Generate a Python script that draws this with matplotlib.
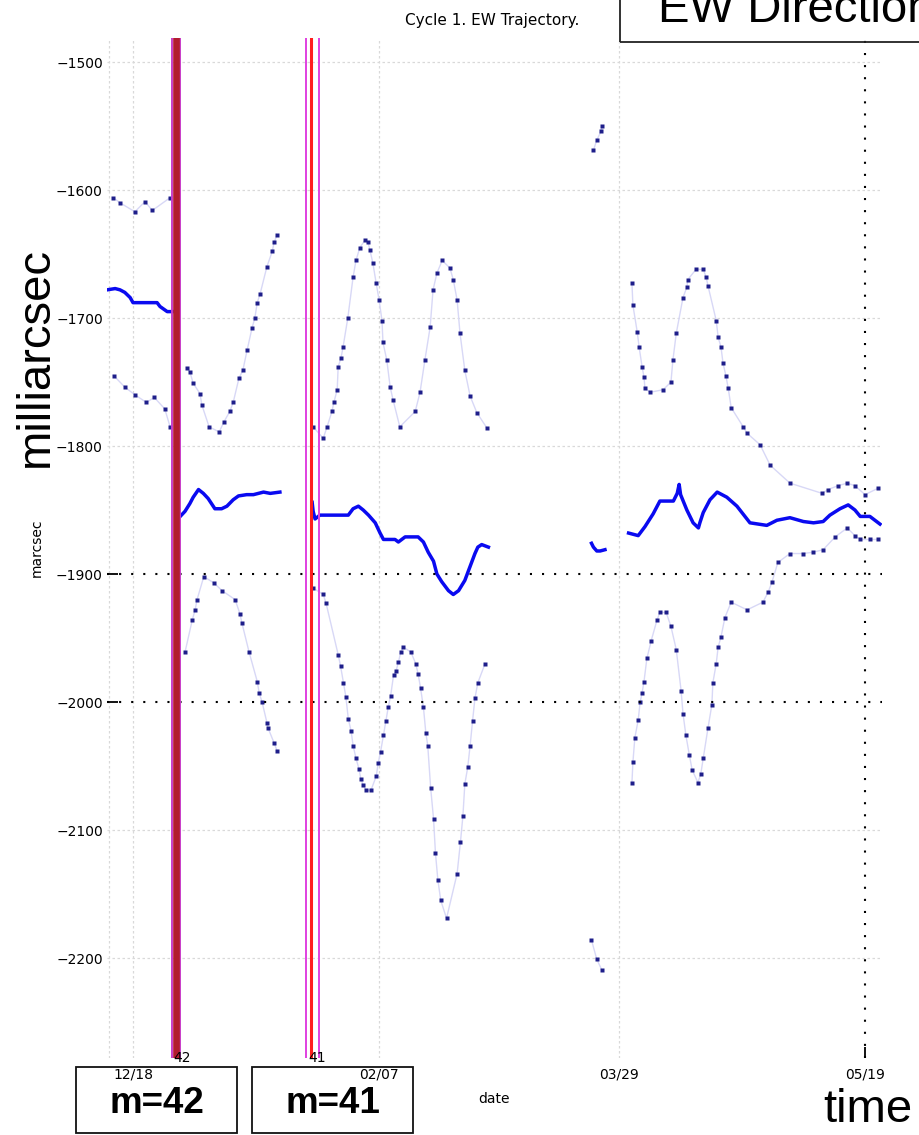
import matplotlib
matplotlib.use("Agg")
import matplotlib.pyplot as plt
from matplotlib.patches import Rectangle

# ---------------- data (days since 12/18, milliarcsec) ----------------
tick_days = [0, 51, 101, 152]
tick_labels = ["12/18", "02/07", "03/29", "05/19"]
ytick_vals = [-1500, -1600, -1700, -1800, -1900, -2000, -2100, -2200]
ytick_labels = ["\u22121500", "\u22121600", "\u22121700", "\u22121800",
                "\u22121900", "\u22122000", "\u22122100", "\u22122200"]

# central trajectory (solid blue)
mid1_t = [-5.4, -3.7, -2.7, -1.7, -0.6, 0.0, 1.5, 5.0, 5.6, 7.1, 8.1]
mid1_v = [-1678, -1677, -1678, -1680, -1684, -1688, -1688, -1688, -1691, -1695, -1695]
mid2_t = [9.8, 10.8, 11.8, 12.5, 13.6, 14.6, 15.6, 17.0, 18.4, 19.5, 20.8, 21.9, 23.6, 25.0, 27.1, 28.5, 30.5]
mid2_v = [-1855, -1851, -1845, -1840, -1834, -1837, -1841, -1849, -1849, -1847, -1842, -1839, -1838, -1838, -1836, -1837, -1836]
mid3_t = [37.2, 37.4, 37.8, 38.8, 40.9, 44.7, 45.7, 46.8, 47.8, 48.9, 50.3, 51.3, 52.0, 54.4, 55.1, 56.5,
          59.2, 60.3, 61.3, 62.4, 63.1, 64.1, 65.5, 66.5, 67.6, 68.9, 70.0, 71.0, 71.6, 72.4, 73.8]
mid3_v = [-1844, -1851, -1857, -1854, -1854, -1854, -1849, -1847, -1850, -1854, -1860, -1868, -1873, -1873, -1875, -1871,
          -1871, -1875, -1883, -1890, -1900, -1906, -1913, -1916, -1913, -1905, -1894, -1884, -1879, -1877, -1879]
mid4_t = [95.2, 95.6, 96.3, 97.0, 98.0]
mid4_v = [-1876, -1879, -1882, -1882, -1881]
mid5_t = [102.9, 104.9, 106.3, 108.0, 109.4, 112.2, 113.0, 113.4, 113.7, 115.0, 116.3, 117.4, 117.7, 118.4, 119.8, 121.3,
          123.3, 125.4, 128.1, 131.6, 133.7, 136.4, 139.2, 141.3, 143.3, 144.7, 146.8, 148.5, 149.9, 151.0, 153.0, 155.1]
mid5_v = [-1868, -1870, -1863, -1853, -1843, -1843, -1837, -1830, -1838, -1850, -1860, -1864, -1860, -1852, -1842, -1836,
          -1840, -1847, -1860, -1862, -1858, -1856, -1859, -1860, -1859, -1854, -1849, -1846, -1850, -1855, -1855, -1861]

# upper envelope (dotted)
up1_t = [-4.1, -2.7, 0.4, 2.5, 4.0, 7.7]
up1_v = [-1606, -1610, -1617, -1609, -1616, -1606]
up2_t = [11.2, 11.8, 12.5, 13.9, 14.3, 15.8, 17.9, 18.9, 20.1, 20.8, 22.0, 22.8, 23.7, 24.7, 25.3, 25.8, 26.4,
         27.8, 28.9, 29.3, 29.9]
up2_v = [-1739, -1742, -1751, -1759, -1768, -1785, -1789, -1781, -1773, -1766, -1747, -1741, -1725, -1708, -1700, -1688,
         -1681, -1660, -1648, -1641, -1635]
up3_t = [37.4, 39.5, 40.3, 41.3, 41.7, 42.4, 42.6, 43.2, 43.6, 44.6, 45.7, 46.3, 47.1, 48.2, 48.8, 49.2, 49.8, 50.5,
         51.1, 51.7, 51.9, 52.7, 53.4, 54.0, 55.4, 58.6, 59.6, 60.6, 61.7, 62.3, 63.1, 64.2, 65.8, 66.5, 67.3, 67.9,
         68.9, 70.0, 71.4, 73.5]
up3_v = [-1785, -1794, -1785, -1773, -1766, -1756, -1738, -1731, -1723, -1700, -1668, -1655, -1645, -1639, -1641, -1647,
         -1657, -1673, -1686, -1702, -1719, -1733, -1754, -1764, -1785, -1773, -1758, -1733, -1707, -1678, -1665, -1655,
         -1661, -1670, -1686, -1712, -1741, -1761, -1774, -1786]
up4_t = [95.6, 96.3, 97.2, 97.4]
up4_v = [-1569, -1561, -1554, -1550]
up5_t = [103.6, 103.8, 104.7, 105.1, 105.7, 106.1, 106.3, 107.4, 110.1, 111.7, 112.1, 112.8, 114.2, 115.0, 115.2,
         116.9, 118.4, 119.0, 119.4, 121.1, 121.5, 122.1, 122.5, 123.1, 123.6, 124.2, 126.7, 127.5, 130.2, 132.3,
         136.4, 143.1, 144.3, 146.4, 148.3, 149.9, 152.0, 154.7]
up5_v = [-1673, -1690, -1711, -1723, -1738, -1746, -1755, -1758, -1756, -1750, -1733, -1712, -1684, -1676, -1670,
         -1662, -1662, -1668, -1675, -1702, -1715, -1723, -1735, -1745, -1755, -1770, -1785, -1790, -1799, -1815,
         -1829, -1837, -1834, -1831, -1829, -1831, -1838, -1833]

# lower envelope (dotted)
lo1_t = [-4.0, -1.7, 0.4, 2.8, 4.4, 6.6, 7.7]
lo1_v = [-1745, -1754, -1760, -1766, -1762, -1771, -1785]
lo2_t = [10.8, 12.3, 12.9, 13.3, 14.7, 16.8, 18.5, 21.2, 22.2, 22.6, 24.1, 25.8, 26.2, 26.8, 27.8, 28.0, 29.3, 29.9]
lo2_v = [-1961, -1936, -1928, -1920, -1902, -1907, -1913, -1920, -1931, -1938, -1961, -1984, -1993, -2000, -2016,
         -2020, -2032, -2038]
lo3_t = [37.4, 39.5, 40.1, 42.6, 43.1, 43.7, 44.2, 44.7, 45.3, 45.7, 46.3, 46.9, 47.3, 47.8, 48.4, 49.4, 50.5, 50.9,
         51.4, 52.0, 52.5, 53.0, 53.5, 54.1, 54.6, 55.1, 55.6, 56.1, 57.7, 58.7, 59.2, 59.7, 60.3, 60.8, 61.2, 61.8,
         62.4, 62.8, 63.3, 63.9, 65.1, 67.3, 68.0, 68.5, 68.9, 69.5, 70.0, 70.5, 71.0, 71.6, 73.1]
lo3_v = [-1911, -1916, -1923, -1963, -1972, -1985, -1996, -2013, -2023, -2034, -2044, -2052, -2060, -2065, -2069,
         -2069, -2058, -2048, -2039, -2026, -2015, -2004, -1995, -1979, -1976, -1969, -1961, -1957, -1961, -1970,
         -1978, -1989, -2004, -2024, -2034, -2067, -2091, -2118, -2139, -2155, -2169, -2134, -2109, -2089, -2064,
         -2051, -2034, -2015, -1997, -1985, -1970]
lo4_t = [95.2, 96.3, 97.3]
lo4_v = [-2186, -2201, -2209]
lo5_t = [103.6, 103.8, 104.2, 104.9, 105.3, 105.7, 106.1, 106.7, 107.6, 108.8, 109.4, 110.7, 111.7, 112.8, 113.8,
         114.2, 114.8, 115.5, 116.1, 117.3, 117.9, 118.4, 119.4, 120.2, 120.4, 121.1, 121.5, 122.1, 122.9, 124.2,
         127.5, 130.8, 131.9, 132.7, 133.9, 136.4, 139.1, 141.2, 143.3, 145.8, 148.3, 149.9, 151.0, 153.0, 154.7]
lo5_v = [-2063, -2047, -2028, -2014, -2000, -1993, -1984, -1966, -1952, -1936, -1930, -1930, -1941, -1959, -1991,
         -2009, -2026, -2041, -2053, -2063, -2056, -2044, -2020, -2002, -1985, -1970, -1957, -1949, -1934, -1922,
         -1928, -1922, -1914, -1906, -1891, -1884, -1884, -1883, -1881, -1871, -1864, -1870, -1873, -1873, -1873]

# maneuver events (time, lower bound, upper bound, label)
event_t = [9.03, 36.96]
event_lo = [8.20, 35.88]
event_hi = [9.86, 38.52]
event_labels = ["42", "41"]
box_labels = ["m=42", "m=41"]

# ---------------- figure ----------------
W, H = 919, 1135
fig = plt.figure(figsize=(W / 100, H / 100), dpi=100)
fig.patch.set_facecolor("white")


def fx(px):
    return px / W


def fy(py):
    return 1 - py / H


ax = fig.add_axes([fx(107), fy(1058), (882 - 107) / W, (1058 - 38) / H])
ax.set_xlim(-5.40, 155.52)
ax.set_ylim(-2278.1, -1481.25)
for s in ax.spines.values():
    s.set_visible(False)

# faint grid
grid_kw = dict(color="#d9d9d9", lw=0.9, ls=(0, (2, 2)), zorder=1)
for v in ytick_vals:
    if v not in (-1900, -2000):
        ax.axhline(v, **grid_kw)
for d in tick_days[:3]:
    ax.axvline(d, **grid_kw)
ax.axvline(ax.get_xlim()[0] + 0.4, **grid_kw)

# black dotted reference lines
dot_kw = dict(color="black", lw=1.5, ls=(0, (1, 4.8)), zorder=5)
ax.axhline(-1900, **dot_kw)
ax.axhline(-2000, **dot_kw)
ax.axvline(tick_days[3], **dot_kw)

# envelopes
env_line = dict(color="#d8d8f6", lw=1.0, zorder=2)
env_dot = dict(ls="none", marker="s", ms=2.2, mfc="#1e1e8a", mec="none", zorder=3)
for t, v in [(up1_t, up1_v), (up2_t, up2_v), (up3_t, up3_v), (up4_t, up4_v), (up5_t, up5_v),
             (lo1_t, lo1_v), (lo2_t, lo2_v), (lo3_t, lo3_v), (lo4_t, lo4_v), (lo5_t, lo5_v)]:
    ax.plot(t, v, **env_line)
    ax.plot(t, v, **env_dot)

# central trajectory
for t, v in [(mid1_t, mid1_v), (mid2_t, mid2_v), (mid3_t, mid3_v), (mid4_t, mid4_v), (mid5_t, mid5_v)]:
    ax.plot(t, v, color="#0a0af0", lw=2.5, zorder=4)

# maneuver markers
edge_colors = ["#c83cc8", "#e040e0"]
core_colors = ["#b21c2e", "#ff1e1e"]
core_widths = [4.8, 2.2]
for i in range(len(event_t)):
    ax.axvline(event_lo[i], color=edge_colors[i], lw=1.4, zorder=6)
    ax.axvline(event_hi[i], color=edge_colors[i], lw=1.4, zorder=6)
    ax.axvline(event_t[i], color=core_colors[i], lw=core_widths[i], zorder=7)
    ax.annotate(event_labels[i], xy=(event_t[i], 0), xycoords=("data", "axes fraction"),
                xytext=(-3, 0), textcoords="offset pixels", ha="left", va="center",
                fontsize=10, family="DejaVu Sans", zorder=8, annotation_clip=False)

# ticks
ax.set_xticks(tick_days, tick_labels)
ax.set_yticks(ytick_vals, ytick_labels)
ax.tick_params(axis="both", direction="in", length=8, width=1.3, colors="black",
               labelsize=10)
ax.tick_params(axis="x", pad=7)
ax.tick_params(axis="y", pad=3)
for lbl, tk in zip(tick_labels, ax.xaxis.get_major_ticks()):
    tk.tick1line.set_visible(lbl == "05/19")
    tk.tick2line.set_visible(False)
for v, tk in zip(ytick_vals, ax.yaxis.get_major_ticks()):
    tk.tick1line.set_visible(v in (-1900, -2000))
    tk.tick2line.set_visible(False)

ax.set_xlabel("date", fontsize=10)
ax.xaxis.set_label_coords(0.5, -0.033)
ax.set_ylabel("marcsec", fontsize=10)
ax.yaxis.set_label_coords(-0.081, 0.5)

# title and annotations
fig.text(fx(492), fy(21), "Cycle 1. EW Trajectory.", ha="center", va="center",
         fontsize=11, family="DejaVu Sans")
fig.add_artist(Rectangle((fx(620), fy(42)), (925 - 620) / W, 52 / H, transform=fig.transFigure,
                         fill=False, ec="#222222", lw=1.3, clip_on=False))
fig.text(fx(658), fy(22), "EW Direction", ha="left", va="baseline", fontsize=34,
         family="Liberation Sans")
fig.text(fx(36), fy(357), "milliarcsec", rotation=90, ha="center", va="center",
         fontsize=34, family="Liberation Sans")
fig.text(fx(823), fy(1122), "time", ha="left", va="baseline", fontsize=34,
         family="Liberation Sans")

box_x = [(76, 237), (252, 413)]
for (x0, x1), lbl in zip(box_x, box_labels):
    fig.add_artist(Rectangle((fx(x0), fy(1133)), (x1 - x0) / W, (1133 - 1067) / H,
                             transform=fig.transFigure, fill=False, ec="#111111", lw=1.3))
    fig.text(fx((x0 + x1) / 2), fy(1113), lbl, ha="center", va="baseline", fontsize=26.5,
             fontweight="bold", family="Liberation Sans")

fig.savefig("out.png", dpi=100)
